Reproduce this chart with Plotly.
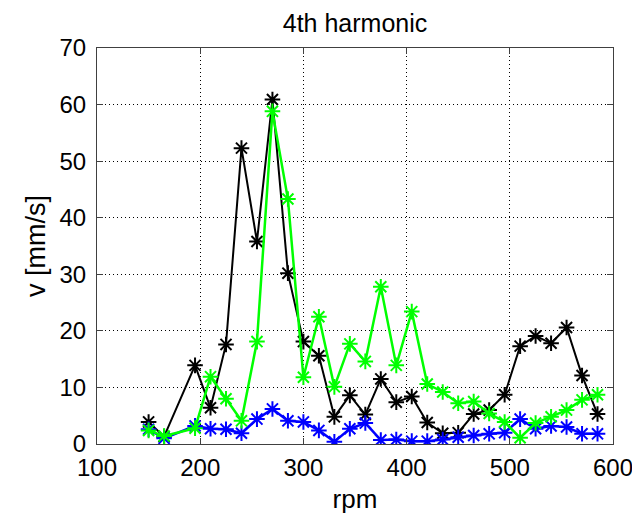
import plotly.graph_objects as go

rpm = [150, 165, 195, 210, 225, 240, 255, 270, 285, 300, 315, 330, 345, 360, 375,
       390, 405, 420, 435, 450, 465, 480, 495, 510, 525, 540, 555, 570, 585]

v_black = [3.9, 1.3, 13.9, 6.4, 17.6, 52.3, 35.8, 60.9, 30.2, 18.1, 15.6, 4.8, 8.6, 5.2, 11.5,
           7.4, 8.4, 3.8, 1.9, 2.0, 5.3, 6.0, 8.7, 17.3, 19.1, 17.8, 20.6, 12.1, 5.3]

v_green = [2.4, 1.4, 2.8, 11.9, 8.0, 4.1, 18.1, 58.8, 43.3, 11.8, 22.5, 10.1, 17.7, 14.6, 27.8,
           13.9, 23.4, 10.6, 9.2, 7.2, 7.5, 5.4, 3.9, 1.1, 3.7, 4.8, 6.0, 7.8, 8.7]

v_blue = [2.6, 1.0, 3.2, 2.7, 2.6, 1.9, 4.4, 6.2, 4.1, 3.9, 2.4, 0.4, 2.7, 3.7, 0.7,
          0.8, 0.5, 0.5, 0.8, 1.2, 1.5, 1.8, 2.0, 4.4, 2.7, 3.2, 3.0, 1.8, 1.8]

x_ticks = [100, 200, 300, 400, 500, 600]
y_ticks = [0, 10, 20, 30, 40, 50, 60, 70]

series = [
    ("black", v_black, "#000000", 2),
    ("blue", v_blue, "#0000ff", 2.5),
    ("green", v_green, "#00ff00", 2.5),
]

fig = go.Figure()
for name, vals, col, lw in series:
    fig.add_trace(go.Scatter(
        x=rpm, y=vals, mode="lines+markers", name=name,
        line=dict(color=col, width=lw),
        marker=dict(symbol="asterisk-open", size=13, color=col,
                    line=dict(color=col, width=2)),
        showlegend=False,
    ))

font_family = "Liberation Sans, Arial, sans-serif"
axis_common = dict(
    showline=True, linecolor="#404040", linewidth=1, mirror="allticks",
    ticks="inside", ticklen=6, tickcolor="#404040",
    showgrid=True, gridcolor="#000000", griddash="1px,3px", gridwidth=1,
    zeroline=False, automargin=False,
    tickfont=dict(family=font_family, size=24, color="#000000"),
)

fig.update_layout(
    width=640, height=516,
    margin=dict(l=89, r=35, t=40, b=80),
    paper_bgcolor="white", plot_bgcolor="white",
    title=dict(text="4th harmonic", x=0.5, xref="paper", xanchor="center",
               y=1 - 15 / 516, yref="container", yanchor="middle",
               font=dict(family=font_family, size=25, color="#000000")),
    xaxis=dict(range=[100, 600], tickvals=x_ticks, ticktext=[str(t) for t in x_ticks],
               ticklabelstandoff=2,
               title=dict(text="rpm", standoff=10,
                          font=dict(family=font_family, size=26, color="#000000")),
               **axis_common),
    yaxis=dict(range=[0, 70], tickvals=y_ticks, ticktext=[str(t) for t in y_ticks],
               ticklabelstandoff=5,
               title=dict(text="v [mm/s]", standoff=6,
                          font=dict(family=font_family, size=27, color="#000000")),
               **axis_common),
)

fig.write_html("out.html")
